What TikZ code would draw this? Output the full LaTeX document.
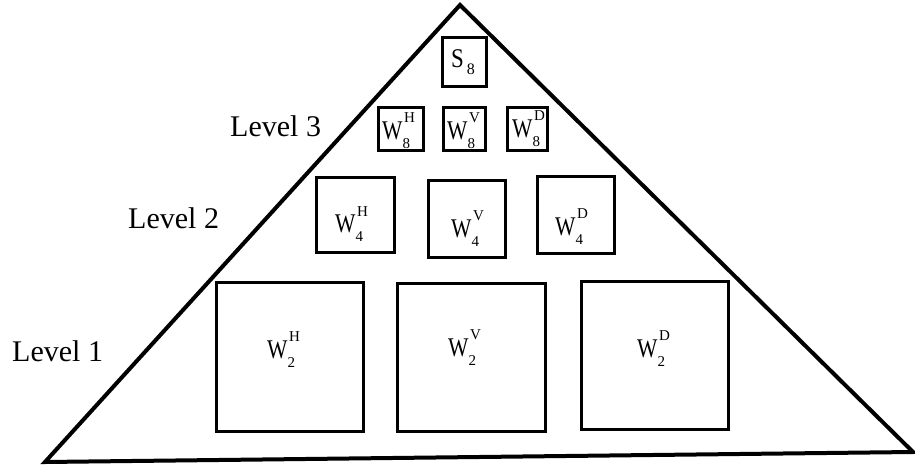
\documentclass[tikz,border=0pt]{standalone}
\usepackage{fontspec}
\usepackage{graphicx}
\setmainfont{Liberation Serif}
\newcommand\scrf{\fontsize{15}{15}\selectfont}
% coefficient label: letter with subscript scale and superscript orientation
\newcommand\wl[3]{\scalebox{0.8}[1]{#1}\rlap{\hspace{1.5pt}\raisebox{17pt}{\scrf #3}}\raisebox{-9pt}{\scrf #2}}
\begin{document}
\begin{tikzpicture}[x=1pt,y=-1pt,
  pyr/.style={line width=4pt,line join=miter},
  band/.style={draw,line width=3pt,inner sep=0pt},
  coef/.style={anchor=base west,inner sep=0pt,font=\fontsize{27}{30}\selectfont},
  lvl/.style={anchor=base west,inner sep=0pt,font=\fontsize{30}{34}\selectfont}]
\useasboundingbox (0,0) rectangle (915,465);

% pyramid outline
\coordinate (apex) at (460,5);
\coordinate (bl) at (45,462);
\coordinate (br) at (913,452);
\draw[pyr] (bl) -- (apex) -- (br) -- cycle;

% approximation at the top
\node[band,minimum width=44pt,minimum height=49pt] (s8) at (464,62) {};
\node[coef] (s8t) at (451,68) {\scalebox{0.85}[1]{S}\hspace{3pt}\raisebox{-7pt}{\fontsize{16}{16}\selectfont 8}};

% level 3
\node[band,minimum width=45pt,minimum height=43pt] (w8h) at (401,129) {};
\node[band,minimum width=42pt,minimum height=43pt] (w8v) at (464,129) {};
\node[band,minimum width=40pt,minimum height=43pt] (w8d) at (527,129) {};
\node[coef] (w8ht) at (382,140) {\wl{W}{8}{H}};
\node[coef] (w8vt) at (447,140) {\wl{W}{8}{V}};
\node[coef] (w8dt) at (512,138) {\wl{W}{8}{D}};

% level 2
\node[band,minimum width=78pt,minimum height=75pt] (w4h) at (355,215) {};
\node[band,minimum width=77pt,minimum height=76pt] (w4v) at (467,219) {};
\node[band,minimum width=77pt,minimum height=77pt] (w4d) at (576,215) {};
\node[coef] (w4ht) at (335,233) {\wl{W}{4}{H}};
\node[coef] (w4vt) at (451,237) {\wl{W}{4}{V}};
\node[coef] (w4dt) at (555,235) {\wl{W}{4}{D}};

% level 1
\node[band,minimum width=147pt,minimum height=149pt] (w2h) at (290,357) {};
\node[band,minimum width=148pt,minimum height=148pt] (w2v) at (471,357) {};
\node[band,minimum width=147pt,minimum height=148pt] (w2d) at (655,355) {};
\node[coef] (w2ht) at (267,358) {\wl{W}{2}{H}};
\node[coef] (w2vt) at (448,356) {\wl{W}{2}{V}};
\node[coef] (w2dt) at (637,357) {\wl{W}{2}{D}};

% level captions
\node[lvl] (l3) at (230,137) {Level 3};
\node[lvl] (l2) at (128,228) {Level 2};
\node[lvl] (l1) at (12,361) {Level 1};
\end{tikzpicture}
\end{document}
